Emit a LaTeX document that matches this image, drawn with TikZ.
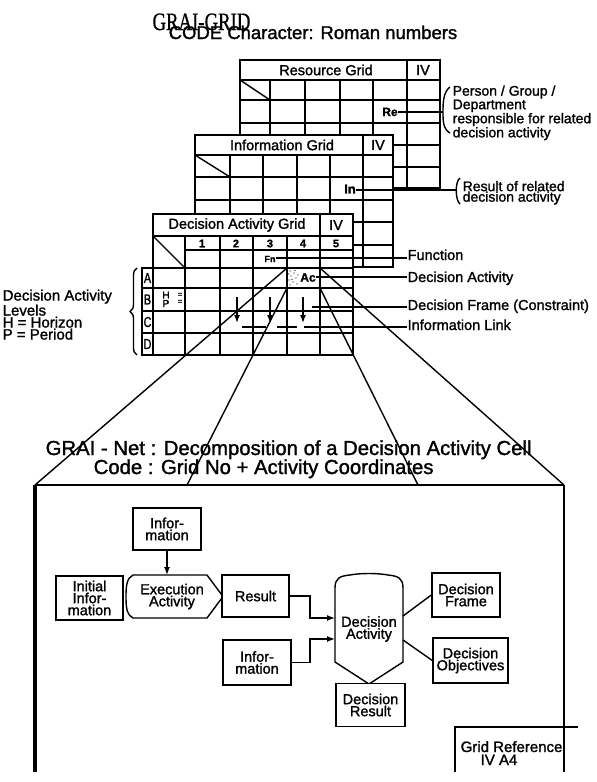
\documentclass[tikz,border=0pt]{standalone}
\usepackage{fontspec}
\setmainfont{Liberation Sans}[FakeBold=1.4]
\newfontfamily\gridserif{Liberation Serif}[FakeBold=0.8]
\usetikzlibrary{arrows.meta,decorations.pathreplacing}

\begin{document}
\begin{tikzpicture}[x=1pt,y=-1pt,line width=1.4pt,
  heavy/.style={line width=2.6pt},
  gtitle/.style={inner sep=0pt,font=\fontsize{14.5}{14.5}\selectfont},
  cellnum/.style={inner sep=0pt,font=\bfseries\fontsize{11}{11}\selectfont},
  celltag/.style={inner sep=0pt,font=\bfseries\fontsize{12}{12}\selectfont},
  rowtag/.style={inner sep=0pt,font=\fontsize{14.5}{14.5}\selectfont,xscale=0.75},
  lbl/.style={inner sep=0pt,anchor=base west,font=\fontsize{14.5}{11.5}\selectfont},
  multilbl/.style={inner sep=0pt,anchor=north west,align=left},
  netbox/.style={draw,fill=white,line width=1.4pt,align=center,inner sep=1pt,
    font=\fontsize{14.5}{12}\selectfont},
  nettext/.style={align=center,inner sep=0pt,font=\fontsize{14.5}{12}\selectfont},
  link/.style={-{Latex[length=8pt,width=6pt]}},
]
\useasboundingbox (0,0) rectangle (597,782);

% ---------- headings ----------
\node[inner sep=0pt,anchor=base west,font=\gridserif\fontsize{25}{25}\selectfont,xscale=0.75]
  (gridhead) at (152,30) {GRAI-GRID};
\node[inner sep=0pt,anchor=base west,font=\fontsize{18.5}{18.5}\selectfont]
  (codehead) at (168,39) {CODE Character: Roman numbers};

% ---------- Resource grid ----------
\draw[fill=white] (240,60) rectangle (440,188);
\draw (240,80) -- (440,80);
\draw (407,60) -- (407,80);
\foreach \x in {270,305,340,373,407} \draw (\x,80) -- (\x,188);
\foreach \y in {123,145,167} \draw (240,\y) -- (440,\y);
\draw[heavy] (240,100) -- (440,100);
\draw (240,80) -- (270,100);
\node[gtitle] (restitle) at (326,70) {Resource Grid};
\node[gtitle] (resiv) at (423,70) {IV};
\node[celltag] (re) at (390,112) {Re};
\coordinate (rebrk) at (443,112);
\draw (re.east) -- (rebrk);
\draw (450,87) .. controls (443,92) and (443,104) .. (443,112)
      .. controls (443,121) and (443,129) .. (450,133);
\node[multilbl,font=\fontsize{14}{11.3}\selectfont] (resnote) at (452,84.8)
  {Person / Group /\\Department\\responsible for related\\decision activity};

% ---------- Information grid ----------
\draw[fill=white] (195,135) rectangle (393,267);
\draw (195,155) -- (393,155);
\draw (363,135) -- (363,155);
\foreach \x in {230,263,297,330,363} \draw (\x,155) -- (\x,267);
\foreach \y in {200,222,245} \draw (195,\y) -- (393,\y);
\draw[heavy] (195,177) -- (393,177);
\draw (195,155) -- (230,177);
\node[gtitle] (inftitle) at (282,145) {Information Grid};
\node[gtitle] (infiv) at (378,145) {IV};
\node[celltag,font=\bfseries\fontsize{13}{13}\selectfont] (in) at (350,189) {In};
\coordinate (inbrk) at (456,190);
\draw (in.east |- inbrk) -- (inbrk);
\draw (460,178) .. controls (455,181) and (455,200) .. (460,204);
\node[multilbl,font=\fontsize{14}{10.5}\selectfont] (infnote) at (462,180.3)
  {Result of related\\decision activity};

% ---------- Decision activity grid ----------
\draw[fill=white] (153,214) rectangle (353,355);
\draw (153,236) -- (353,236);
\draw (320,214) -- (320,236);
\foreach \x in {185,220,253,287,320} \draw (\x,236) -- (\x,355);
\draw (185,250) -- (353,250);
\draw[heavy] (153,268) -- (353,268);
\draw (153,288) -- (353,288);
\draw[heavy] (153,311) -- (353,311);
\draw (153,333) -- (353,333);
\draw[heavy] (153,355) -- (353,355);
\draw (153,236) -- (185,268);
\node[gtitle,font=\fontsize{14.5}{14.5}\selectfont] (dectitle) at (237,225) {Decision Activity Grid};
\node[gtitle] (deciv) at (336,225) {IV};
\foreach \n/\x in {1/202,2/236,3/270,4/303,5/336}
  \node[cellnum] (col\n) at (\x,243.5) {\n};
% level letters
\draw (142,268) rectangle (153,355);
\foreach \y in {288,311,333} \draw (142,\y) -- (153,\y);
\foreach \l/\y in {A/278,B/299.5,C/322,D/344}
  \node[rowtag] (lev\l) at (147.5,\y) {\l};
\node[inner sep=0pt,font=\fontsize{10}{10}\selectfont] (hz) at (166,295) {H};
\node[inner sep=0pt,font=\fontsize{10}{10}\selectfont] (pd) at (166,303.5) {P};
\node[inner sep=0pt,font=\fontsize{8}{8}\selectfont] (hzeq) at (180,295) {=};
\node[inner sep=0pt,font=\fontsize{8}{8}\selectfont] (pdeq) at (180,302) {=};
% function, activity, frame and link marks
\node[inner sep=0pt,font=\bfseries\fontsize{9}{9}\selectfont] (fn) at (270,259) {Fn};
\foreach \dx/\dy in {290/271,294/273,291/276,296/278,289/280,293/282,297/284,290/285,
                     295/270.5,298/275,292/279.5,288.8/274}
  \fill (\dx,\dy) circle (0.6);
\node[celltag] (ac) at (308,277.5) {Ac};
\foreach \x in {237,270,303}
  \draw[link,line width=1.5pt] (\x,297) -- (\x,323);
\coordinate (lnka) at (242,327);
\coordinate (lnkb) at (266,327);
\coordinate (lnkc) at (277,327);
\coordinate (lnkd) at (297,327);
\coordinate (lnke) at (304,327);
\draw (lnka) -- (lnkb);
\draw (lnkc) -- (lnkd);

% labels on the right
\node[lbl] (fnlbl) at (407,260) {Function};
\node[lbl] (aclbl) at (407,282) {Decision Activity};
\node[lbl] (frlbl) at (407,310) {Decision Frame (Constraint)};
\node[lbl] (lklbl) at (407,330) {Information Link};
\draw (fn.east |- 0,258) -- (fnlbl.west |- 0,258);
\draw (ac.east |- 0,277) -- (aclbl.west |- 0,277);
\coordinate (frstart) at (312,307);
\draw (frstart) -- (frlbl.west |- frstart);
\draw (lnke) -- (lklbl.west |- lnke);

% legend of levels
\draw[decorate,decoration={brace,amplitude=7pt}] (137,355) -- (137,268);
\node[multilbl,font=\fontsize{15}{10.5}\selectfont] (levels) at (2,289)
  {Decision Activity\\Levels\\H = Horizon\\P = Period};

% ---------- projection of the activity cell ----------
\coordinate (cellnw) at (287,268);
\coordinate (cellsw) at (287,288);
\coordinate (cellse) at (320,288);
\coordinate (cellne) at (320,268);
\coordinate (boxnw) at (35,485);
\coordinate (boxtl) at (187,485);
\coordinate (boxtr) at (418,485);
\coordinate (boxne) at (564,485);
\draw (cellnw) -- (boxnw);
\draw (cellsw) -- (boxtl);
\draw (cellse) -- (boxtr);
\draw (cellne) -- (boxne);

\node[inner sep=0pt,anchor=base west,font=\fontsize{20.3}{20}\selectfont]
  (nethead) at (45,455) {GRAI - Net : Decomposition of a Decision Activity Cell};
\node[inner sep=0pt,anchor=base west,font=\fontsize{20.3}{20}\selectfont]
  (netcode) at (93,474) {Code : Grid No + Activity Coordinates};

% frame of the net
\draw (boxnw) -- (boxne);
\draw[line width=3.2pt] (boxnw) -- (35,772);
\draw (boxne) -- (564,560);
\draw[line width=2.8pt] (564,560) -- (564,727);
\draw (564,727) -- (564,772);
\draw (455,772) -- (455,727) -- (578,727);
\node[inner sep=0pt,anchor=base west,font=\fontsize{15}{15}\selectfont] (gridref) at (460,752) {Grid Reference};
\node[inner sep=0pt,anchor=base west,font=\fontsize{15}{15}\selectfont] (gridrefcode) at (480,765) {IV A4};

% ---------- GRAI net ----------
\node[netbox,minimum width=68,minimum height=42] (info1) at (167,529) {Infor-\\mation};
\node[netbox,minimum width=67,minimum height=44] (initinfo) at (89.5,598) {Initial\\Infor-\\mation};
\draw (133,575) -- (207,575) -- (223,596.5) -- (207,618) -- (133,618)
  .. controls (127,615) and (126,609) .. (126,596.5)
  .. controls (126,585) and (127,578) .. (133,575) -- cycle;
\node[nettext] (exec) at (172,596.5) {Execution\\Activity};
\node[netbox,minimum width=67,minimum height=42] (result) at (255.5,596) {Result};
\node[netbox,minimum width=68,minimum height=45] (info2) at (257,662.5) {Infor-\\mation};
\draw (335,662) -- (335,588) .. controls (335,578) and (340,576) .. (350,575)
  .. controls (360,573) and (378,573) .. (388,575)
  .. controls (398,576) and (403,578) .. (403,588)
  -- (403,662) -- (369,684) -- cycle;
\node[nettext] (decact) at (369,629) {Decision\\Activity};
\node[netbox,minimum width=69,minimum height=43] (decres) at (370.5,705) {Decision\\Result};
\node[netbox,minimum width=68,minimum height=44] (decframe) at (466,595) {Decision\\Frame};
\node[netbox,minimum width=75,minimum height=45] (decobj) at (470.5,660.5) {Decision\\Objectives};

\coordinate (execin) at (167,575);
\coordinate (actin1) at (335,618);
\coordinate (actin2) at (335,639);
\coordinate (actout1) at (403,616);
\coordinate (actout2) at (403,640);
\draw[link] (info1.south) -- (execin);
\draw[link] (result.east) -- (310,596) -- (310,618) -- (actin1);
\draw[link] (info2.east) -- (310,662.5) -- (310,639) -- (actin2);
\draw (actout1) -- (decframe.west);
\draw (actout2) -- (decobj.west);
\end{tikzpicture}
\end{document}
